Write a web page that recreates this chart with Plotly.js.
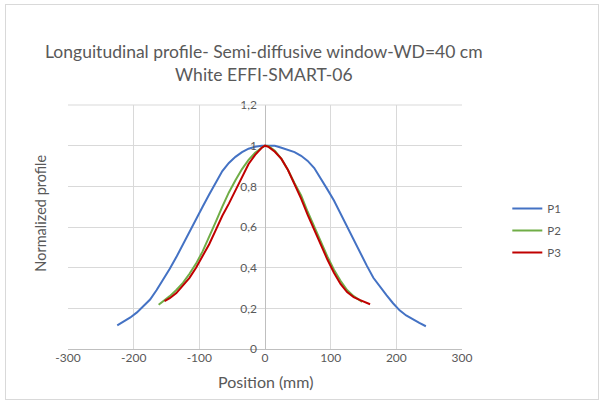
<!DOCTYPE html>
<html><head><meta charset="utf-8">
<script src="https://cdn.plot.ly/plotly-3.0.1.min.js"></script>
<style>
body{margin:0;background:#fff;}
#frame{position:absolute;left:5px;top:4px;width:594px;height:396px;border:1px solid #d9d9d9;box-sizing:border-box;}
#chart{position:absolute;left:0;top:0;width:603px;height:407px;}
</style></head>
<body><div id="frame"></div><div id="chart"></div>
<script>
const p1X = [-225,-215,-205,-195,-185,-175,-165,-155,-145,-135,-125,-115,-105,-95,-85,-75,-65,-55,-45,-35,-25,-15,-5,5,15,25,35,45,55,65,75,85,95,105,115,125,135,145,155,165,175,185,195,205,215,225,235,245];
const p1Y = [0.116,0.135,0.155,0.18,0.21,0.243,0.29,0.34,0.395,0.452,0.515,0.58,0.64,0.70,0.76,0.82,0.875,0.915,0.945,0.968,0.985,0.995,1.0,1.0,1.0,0.99,0.98,0.968,0.95,0.925,0.89,0.84,0.785,0.73,0.665,0.6,0.54,0.475,0.41,0.35,0.305,0.265,0.225,0.19,0.165,0.145,0.128,0.112];
const p2X = [-162,-155,-145,-135,-125,-115,-105,-95,-85,-75,-65,-55,-45,-35,-25,-15,-5,0,5,15,25,35,45,55,65,75,85,95,105,115,125,135,148];
const p2Y = [0.218,0.235,0.26,0.29,0.325,0.37,0.42,0.48,0.55,0.625,0.70,0.77,0.83,0.885,0.93,0.965,0.99,1.0,0.998,0.975,0.935,0.88,0.815,0.755,0.675,0.6,0.525,0.455,0.39,0.335,0.29,0.26,0.232];
const p3X = [-153,-145,-135,-125,-115,-105,-95,-85,-75,-65,-55,-45,-35,-25,-15,-5,0,5,15,25,35,45,55,65,75,85,95,105,115,125,135,145,155,160];
const p3Y = [0.235,0.25,0.275,0.31,0.35,0.40,0.455,0.515,0.585,0.655,0.715,0.78,0.85,0.91,0.955,0.99,1.0,0.995,0.97,0.935,0.88,0.81,0.74,0.66,0.585,0.51,0.44,0.375,0.32,0.28,0.255,0.24,0.228,0.22];
const seriesNames = ['P1','P2','P3'];
const xTickVals = [-300,-200,-100,0,100,200,300];
const xTickText = ['-300','-200','-100','0','100','200','300'];
const yTickVals = [0,0.2,0.4,0.6,0.8,1,1.2];
const yTickText = ['0','0,2','0,4','0,6','0,8','1','1,2'];
const titleText = 'Longuitudinal profile- Semi-diffusive window-WD=40 cm<br>White EFFI-SMART-06';
const xTitle = 'Position (mm)';
const yTitle = 'Normalized profile';

const F = 'Lato, "Open Sans", sans-serif';
const traces = [
  {x:p1X, y:p1Y, name:seriesNames[0], legendgroup:'a', mode:'lines', line:{color:'#4472C4', width:2}},
  {x:p2X, y:p2Y, name:seriesNames[1], legendgroup:'b', mode:'lines', line:{color:'#70AD47', width:2}},
  {x:p3X, y:p3Y, name:seriesNames[2], legendgroup:'c', mode:'lines', line:{color:'#C00000', width:2}}
];
const layout = {
  width:603, height:407,
  margin:{l:68, r:141, t:105, b:58},
  paper_bgcolor:'rgba(0,0,0,0)', plot_bgcolor:'#fff',
  font:{family:F, color:'#595959', size:12},
  title:{text:titleText, font:{family:F, size:17.5, color:'#595959'}, x:0.497, xref:'paper', xanchor:'center', y:0.857, yref:'container', yanchor:'top'},
  xaxis:{range:[-300,300], tickvals:xTickVals, ticktext:xTickText, showgrid:true, gridcolor:'#d9d9d9', gridwidth:1,
         zeroline:true, zerolinecolor:'#bfbfbf', zerolinewidth:1, showline:false, ticks:'', tickfont:{size:12, color:'#595959'}},
  yaxis:{range:[0,1.2], tickvals:yTickVals, ticktext:yTickText, showgrid:true, gridcolor:'#d9d9d9', gridwidth:1,
         zeroline:true, zerolinecolor:'#bfbfbf', zerolinewidth:1, showline:false, ticks:'', ticklabelstandoff:8,
         anchor:'free', position:0.5, side:'left', tickfont:{size:12, color:'#595959'}},
  shapes:[
    {type:'line', xref:'paper', yref:'paper', x0:0, x1:1, y0:1, y1:1, line:{color:'#d9d9d9', width:1}}
  ],
  annotations:[
    {text:xTitle, xref:'paper', yref:'paper', x:0.5, y:-0.085, yanchor:'top', showarrow:false, font:{family:F, size:16, color:'#595959'}},
    {text:yTitle, xref:'paper', yref:'paper', x:-0.095, y:0.555, textangle:-90, showarrow:false, font:{family:F, size:14.5, color:'#595959'}}
  ],
  legend:{x:1.115, xanchor:'left', y:0.635, yanchor:'top', font:{size:11.5, color:'#595959'}, itemwidth:30, tracegroupgap:3, bgcolor:'rgba(0,0,0,0)'},
  showlegend:true
};
Plotly.newPlot('chart', traces, layout, {displayModeBar:false, staticPlot:true});
</script></body></html>
